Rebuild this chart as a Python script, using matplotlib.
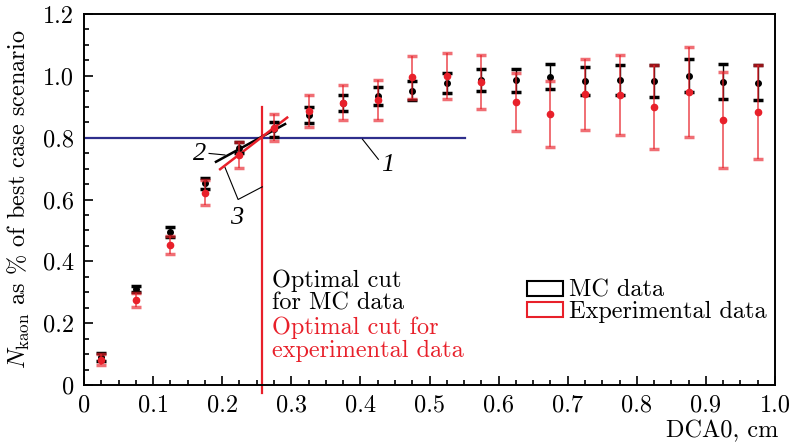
import matplotlib
matplotlib.use("Agg")
import matplotlib.pyplot as plt
from matplotlib.patches import Rectangle
from matplotlib.ticker import MultipleLocator

plt.rcParams['font.family'] = 'serif'
plt.rcParams['font.serif'] = ['cmr10']
plt.rcParams['mathtext.fontset'] = 'cm'
plt.rcParams['axes.formatter.use_mathtext'] = True

# ---- data ----
dca = [0.025, 0.075, 0.125, 0.175, 0.225, 0.275, 0.325, 0.375, 0.425, 0.475,
       0.525, 0.575, 0.625, 0.675, 0.725, 0.775, 0.825, 0.875, 0.925, 0.975]
mc_vals = [0.090, 0.310, 0.495, 0.652, 0.768, 0.827, 0.873, 0.913, 0.936, 0.952,
           0.976, 0.986, 0.986, 0.997, 0.984, 0.986, 0.983, 1.000, 0.981, 0.978]
mc_err = [0.012, 0.010, 0.015, 0.017, 0.019, 0.025, 0.025, 0.026, 0.029, 0.030,
          0.032, 0.036, 0.037, 0.041, 0.046, 0.048, 0.051, 0.053, 0.057, 0.057]
exp_vals = [0.082, 0.275, 0.453, 0.622, 0.744, 0.832, 0.886, 0.913, 0.922, 0.995,
            0.999, 0.980, 0.915, 0.877, 0.940, 0.938, 0.900, 0.947, 0.857, 0.884]
exp_err = [0.018, 0.024, 0.030, 0.040, 0.043, 0.043, 0.052, 0.057, 0.064, 0.070,
           0.075, 0.086, 0.093, 0.106, 0.115, 0.128, 0.136, 0.145, 0.156, 0.152]

hline_y = 0.8
hline_x = [0.0, 0.552]
cut_x = 0.258
cut_y = [-0.026, 0.90]
fit_mc_x = [0.191, 0.291]
fit_mc_y = [0.722, 0.844]
fit_exp_x = [0.197, 0.294]
fit_exp_y = [0.698, 0.865]

xticks = [0, 0.1, 0.2, 0.3, 0.4, 0.5, 0.6, 0.7, 0.8, 0.9, 1.0]
xticklabels = ['0', '0.1', '0.2', '0.3', '0.4', '0.5', '0.6', '0.7', '0.8', '0.9', '1.0']
yticks = [0, 0.2, 0.4, 0.6, 0.8, 1.0, 1.2]
yticklabels = ['0', '0.2', '0.4', '0.6', '0.8', '1.0', '1.2']

RED = '#e8202a'
BLUE = '#2e2e8c'
FS = 17.5

fig = plt.figure(figsize=(7.95, 4.43), dpi=100)
ax = fig.add_axes([84/795, 1 - 385/443, (775 - 84)/795, (385 - 14)/443])
ax.set_xlim(0, 1.0)
ax.set_ylim(0, 1.2)

# horizontal line (1)
ax.plot(hline_x, [hline_y, hline_y], color=BLUE, lw=1.6, zorder=2)
# vertical optimal cut line
ax.plot([cut_x, cut_x], cut_y, color=RED, lw=1.6, clip_on=False, zorder=2)
# fit lines (2) and (3)
ax.plot(fit_mc_x, fit_mc_y, color='black', lw=1.8, zorder=3)
ax.plot(fit_exp_x, fit_exp_y, color=RED, lw=1.8, zorder=3)

# annotation leaders and numbers
num_kw = dict(fontsize=19, ha='center', va='center', family='Liberation Serif',
              style='italic')
ax.plot([0.181, 0.204], [0.749, 0.744], color='black', lw=0.8)
ax.text(0.168, 0.746, '2', **num_kw)
ax.plot([0.403, 0.426], [0.795, 0.730], color='black', lw=0.8)
ax.text(0.44, 0.711, '1', **num_kw)
ax.plot([0.204, 0.223, 0.258], [0.704, 0.600, 0.641], color='black', lw=0.8)
ax.text(0.221, 0.540, '3', **num_kw)

# data
ax.errorbar(dca, mc_vals, yerr=mc_err, fmt='o', color='black', ms=4,
            elinewidth=1.0, capsize=3.5, capthick=2.5, zorder=4)
ax.errorbar(dca, exp_vals, yerr=exp_err, fmt='o', color=RED, ms=4.5,
            ecolor=(0.91, 0.13, 0.16, 0.65), elinewidth=1.4, capsize=3.5,
            capthick=2.5, zorder=5)

# texts
txt_lines = [('Optimal cut', 'black', 0.317),
             ('for MC data', 'black', 0.243),
             ('Optimal cut for', RED, 0.166),
             ('experimental data', RED, 0.090)]
for s, c, yb in txt_lines:
    ax.text(0.272, yb, s, fontsize=FS, color=c, ha='left', va='baseline')

# legend
h1 = Rectangle((0, 0), 1, 1, facecolor='none', edgecolor='black', lw=1.5)
h2 = Rectangle((0, 0), 1, 1, facecolor='none', edgecolor=RED, lw=1.5)
ax.legend([h1, h2], ['MC data', 'Experimental data'], loc='upper left',
          bbox_to_anchor=(0.638, 0.29), frameon=False, fontsize=FS,
          handlelength=1.45, handleheight=0.6, handletextpad=0.25,
          labelspacing=-0.05, borderpad=0.1, borderaxespad=0.0)

# axes styling
ax.set_xticks(xticks)
ax.set_xticklabels(xticklabels)
ax.set_yticks(yticks)
ax.set_yticklabels(yticklabels)
ax.xaxis.set_minor_locator(MultipleLocator(0.025))
ax.yaxis.set_minor_locator(MultipleLocator(0.05))
ax.tick_params(which='both', direction='in', top=False, right=False,
               labelsize=FS, width=1.2)
ax.tick_params(which='major', length=6.3, pad=7)
ax.tick_params(which='minor', length=3.8)
for s in ax.spines.values():
    s.set_linewidth(1.4)

ax.set_ylabel(r'$N_{\rm kaon}$ as % of best case scenario', fontsize=FS, labelpad=8)
ax.set_xlabel('DCA0, cm', fontsize=FS)
ax.xaxis.set_label_coords(1.005, -0.095)
ax.xaxis.label.set_ha('right')

fig.savefig('out.png', dpi=100)
